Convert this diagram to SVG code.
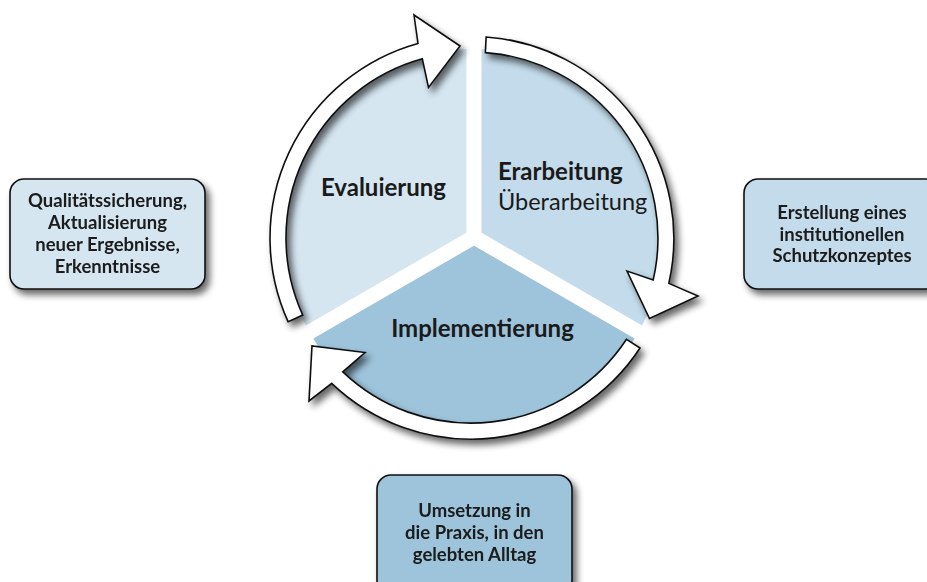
<svg xmlns="http://www.w3.org/2000/svg" width="927" height="582" viewBox="0 0 927 582">
  <defs>
    <filter id="sh" x="-20%" y="-20%" width="140%" height="140%">
      <feGaussianBlur in="SourceAlpha" stdDeviation="3.5"/>
      <feOffset dx="4" dy="5" result="b"/>
      <feComponentTransfer in="b" result="s"><feFuncA type="linear" slope="0.6"/></feComponentTransfer>
      <feMerge><feMergeNode in="s"/><feMergeNode in="SourceGraphic"/></feMerge>
    </filter>
  </defs>
  <style>
    .lbl { font-family: Lato, "Liberation Sans", sans-serif; fill: #1a1a1a; }
    .b { font-weight: bold; font-size: 24px; }
    .r { font-size: 23.5px; }
    .box text { font-family: Lato, "Liberation Sans", sans-serif; font-weight: bold; font-size: 18.5px; fill: #1a1a1a; text-anchor: middle; }
    .box rect { stroke: #111; stroke-width: 1.6; }
    .arrow { fill: #fff; stroke: #111; stroke-width: 1.6; stroke-linejoin: miter; }
  </style>
  <rect width="927" height="582" fill="#fff"/>

  <g id="pie">
    <path id="wedge-evaluierung" d="M474 237 L309.5 332 A188 188 0 0 1 474 49 Z" fill="#d5e6f1"/>
    <path id="wedge-erarbeitung" d="M474 237 L474 49 A188 188 0 0 1 638.5 332 Z" fill="#c3dbea"/>
    <path id="wedge-implementierung" d="M474 237 L638.5 332 A188 188 0 0 1 309.5 332 Z" fill="#9dc4db"/>
    <g stroke="#fff" stroke-width="15" stroke-linecap="butt">
      <line x1="474" y1="237" x2="474" y2="30"/>
      <line x1="474" y1="237" x2="660" y2="344.4"/>
      <line x1="474" y1="237" x2="288" y2="344.4"/>
    </g>
  </g>

  <g id="connectors" filter="url(#sh)">
    <path class="arrow" d="M288.2 321.8 A202 202 0 0 1 418 43.4 L414 15 L460 46 L428.5 87.5 L422.3 58.8 A186 186 0 0 0 302.7 315.1 Z"/>
    <path class="arrow" d="M486.1 37 A202 202 0 0 1 668.8 283.4 L698 296 L649.5 318.5 L627 271 L653.2 279.9 A186 186 0 0 0 485.4 52.6 Z"/>
    <path class="arrow" d="M640 348 A202 202 0 0 1 331.7 383.3 L309 401 L312 346 L365 352.5 L342.8 371.8 A186 186 0 0 0 626.5 339.3 Z"/>
  </g>

  <g id="label-evaluierung"><text class="lbl b" x="383.5" y="196" text-anchor="middle">Evaluierung</text></g>
  <g id="label-erarbeitung">
    <text class="lbl b" x="498" y="180">Erarbeitung</text>
    <text class="lbl r" x="498" y="210">Überarbeitung</text>
  </g>
  <g id="label-implementierung"><text class="lbl b" x="482.5" y="337" text-anchor="middle">Implementierung</text></g>

  <g id="box-left" class="box" filter="url(#sh)">
    <rect x="10" y="179" width="195" height="110" rx="14" fill="#d5e6f1"/>
    <text x="107.5" y="207">Qualitätssicherung,</text>
    <text x="107.5" y="229">Aktualisierung</text>
    <text x="107.5" y="251">neuer Ergebnisse,</text>
    <text x="107.5" y="273">Erkenntnisse</text>
  </g>
  <g id="box-right" class="box" filter="url(#sh)">
    <rect x="744" y="179" width="196" height="110" rx="14" fill="#c3dbea"/>
    <text x="842" y="219">Erstellung eines</text>
    <text x="842" y="240.5">institutionellen</text>
    <text x="842" y="262">Schutzkonzeptes</text>
  </g>
  <g id="box-bottom" class="box" filter="url(#sh)">
    <rect x="377" y="475" width="195" height="120" rx="14" fill="#9dc4db"/>
    <text x="474.5" y="517">Umsetzung in</text>
    <text x="474.5" y="539">die Praxis, in den</text>
    <text x="474.5" y="561">gelebten Alltag</text>
  </g>
</svg>
